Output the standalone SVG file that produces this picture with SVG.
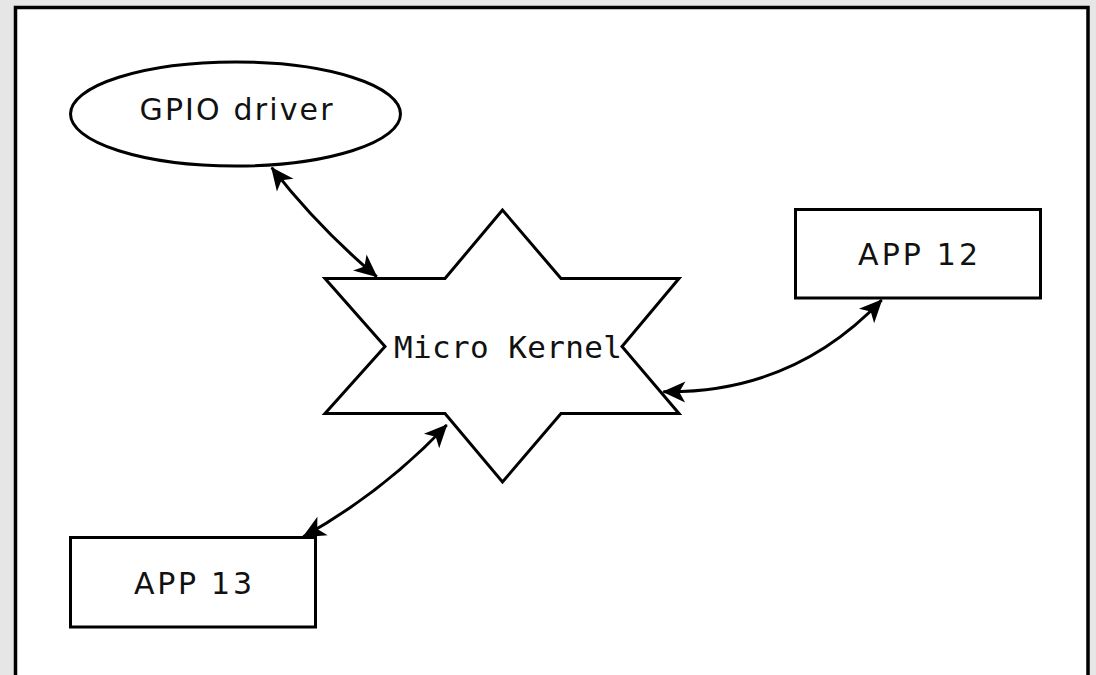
<svg xmlns="http://www.w3.org/2000/svg" width="1096" height="675" viewBox="0 0 1096 675">
  <style>
    .shape { fill: #ffffff; stroke: #000000; stroke-width: 3; }
    .lbl { font-family: "DejaVu Sans", "Liberation Sans", sans-serif; font-size: 30px; fill: #111111; text-anchor: middle; }
    .mono { font-family: "DejaVu Sans Mono", "Liberation Mono", monospace; font-size: 31px; fill: #111111; text-anchor: middle; }
    .conn { fill: none; stroke: #000000; stroke-width: 3; }
  </style>
  <defs>
    <marker id="arr" viewBox="-26 -13 28 26" markerWidth="28" markerHeight="26" refX="0" refY="0" orient="auto-start-reverse" markerUnits="userSpaceOnUse">
      <path d="M1,0 L-22,-10.5 L-16,0 L-22,10.5 Z" fill="#000000"/>
    </marker>
  </defs>
  <rect x="0" y="0" width="1096" height="675" fill="#e6e6e6"/>
  <rect x="15.5" y="7.5" width="1072.5" height="700" fill="#ffffff" stroke="#000000" stroke-width="3.5"/>

  <g id="gpio-driver">
    <ellipse class="shape" cx="235.5" cy="114" rx="165" ry="52" stroke-width="2.5"/>
    <text class="lbl" x="236" y="120" textLength="193" lengthAdjust="spacing">GPIO driver</text>
  </g>

  <g id="micro-kernel">
    <polygon class="shape" points="502.5,210 445,278.5 325,278.5 385,346.5 325,413.5 445,413.5 502.5,482 561,413.5 679,413.5 622,346.5 679,278.5 561,278.5"/>
    <text class="mono" x="508" y="357.5" textLength="228" lengthAdjust="spacing">Micro Kernel</text>
  </g>

  <g id="app12">
    <rect class="shape" x="795.5" y="209.5" width="245" height="88.5"/>
    <text class="lbl" x="918" y="264.5" textLength="120" lengthAdjust="spacing">APP 12</text>
  </g>

  <g id="app13">
    <rect class="shape" x="70.5" y="537.5" width="245" height="89.5"/>
    <text class="lbl" x="193" y="593.5" textLength="118" lengthAdjust="spacing">APP 13</text>
  </g>

  <g id="connectors">
    <path class="conn" d="M271.7,167.7 Q318.4,227.8 376.7,276.7" marker-start="url(#arr)" marker-end="url(#arr)"/>
    <path class="conn" d="M663.3,391.7 Q792.6,393.8 881.7,300" marker-start="url(#arr)" marker-end="url(#arr)"/>
    <path class="conn" d="M446.7,425 Q383.6,491.8 303.3,536.7" marker-start="url(#arr)" marker-end="url(#arr)"/>
  </g>
</svg>
